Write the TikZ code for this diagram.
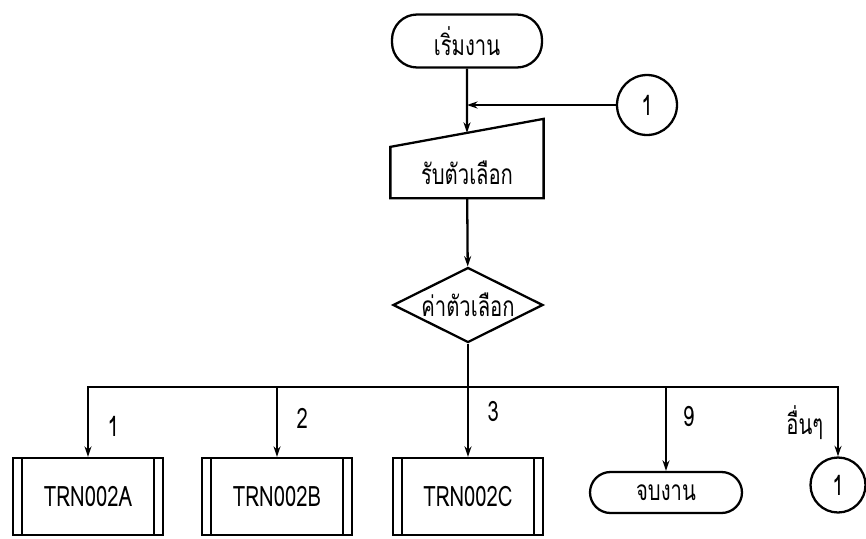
\documentclass[tikz,border=0pt]{standalone}
\usepackage{fontspec}
\setmainfont[Script=Thai, FakeStretch=0.72]{Loma}
\usetikzlibrary{arrows.meta, positioning, calc, shapes.geometric}

\begin{document}
\begin{tikzpicture}[x=0.02cm, y=-0.02cm, >={Stealth[length=6pt,width=4pt]}, line width=1.3pt,
  every node/.style={font=\fontsize{16}{18}\selectfont},
  term/.style={rectangle, draw, rounded corners=0.5cm, minimum width=3cm, minimum height=1.06cm},
  subproc/.style={rectangle, draw, minimum width=3cm, minimum height=1.54cm,
    path picture={
      \draw ([xshift=0.18cm]path picture bounding box.north west) -- ([xshift=0.18cm]path picture bounding box.south west);
      \draw ([xshift=-0.18cm]path picture bounding box.north east) -- ([xshift=-0.18cm]path picture bounding box.south east);
    }},
  conn/.style={circle, draw, minimum size=1.2cm, inner sep=0pt},
  lbl/.style={inner sep=2pt}]

\useasboundingbox (0,0) rectangle (866,538);

% Start and input
\node[term] (start) at (467,41) {เริ่มงาน};
\node[minimum width=3.02cm, minimum height=0.98cm] (input) at (467,172.5) {รับตัวเลือก};
\coordinate (inTR) at ($(input.north east)+(0,-28)$);
\draw (input.north west) -- (inTR) -- (input.south east) -- (input.south west) -- cycle;
\coordinate (inTop) at ($(input.north west)!0.5!(inTR)$);

% Connector back to the input
\node[conn] (con1) at (647,105) {1};
\coordinate (join) at (start.south |- con1);

% Decision
\node[diamond, draw, aspect=2, inner sep=0pt, minimum width=3cm, minimum height=1.5cm] (choice) at (468,305) {ค่าตัวเลือก};
\coordinate (bus) at (468,387);

% Branches
\node[subproc] (trnA) at (88,496.5) {TRN002A};
\node[subproc] (trnB) at (277,496.5) {TRN002B};
\node[subproc] (trnC) at (468,496.5) {TRN002C};
\node[term, minimum width=3.04cm, minimum height=0.82cm, rounded corners=0.41cm] (stop) at (666,492.5) {จบงาน};
\node[conn, minimum size=1.1cm] (con2) at (838,485) {1};

% Connections
\draw[->] (start) -- (inTop);
\draw[->] (con1) -- (join);
\draw[->] (input) -- (choice);
\draw[->] (choice) -- (trnC) node[lbl, pos=0.6, right=0.3cm] (l3) {3};
\draw[->] (bus) -| (trnA) node[lbl, pos=0.78, right=0.3cm] (l1) {1};
\draw[->] (trnB |- bus) -- (trnB) node[lbl, pos=0.45, right=0.3cm] (l2) {2};
\draw[->] (stop |- bus) -- (stop) node[lbl, pos=0.35, right=0.25cm] (l9) {9};
\draw[->] (bus) -| (con2) node[lbl, pos=0.76, left=0.2cm] (lx) {อื่นๆ};

\end{tikzpicture}
\end{document}
